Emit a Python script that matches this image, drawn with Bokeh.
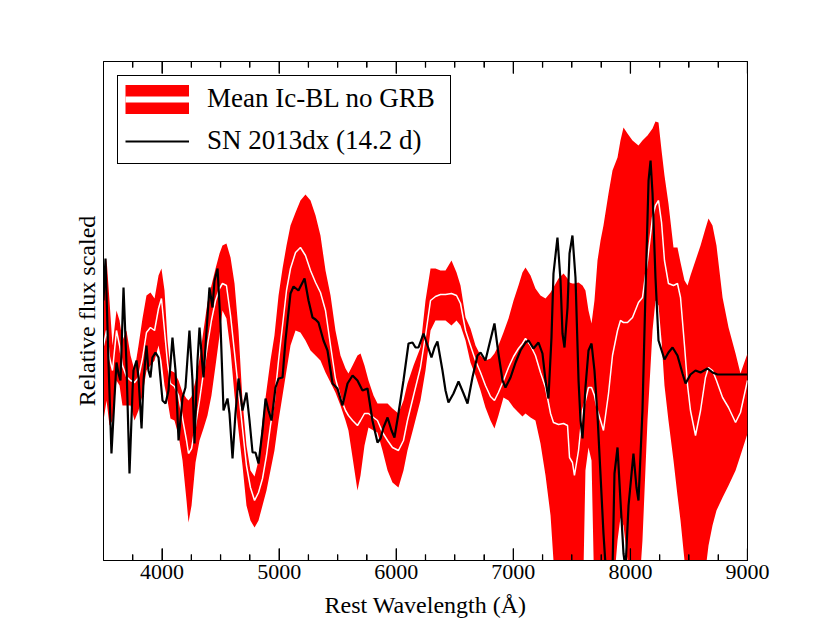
from bokeh.plotting import figure
from bokeh.models import (Range1d, LinearAxis, FixedTicker, Legend, LegendItem,
                          ColumnDataSource)
from bokeh.embed import file_html
from bokeh.resources import INLINE

# ---- data: mean Ic-BL (no GRB) template, +/- 1 sigma band ----
wavelength_band = [
    3500, 3526, 3551, 3577, 3611, 3637, 3662, 3696, 3731, 3765,
    3799, 3833, 3867, 3901, 3936, 3970, 3995, 4021, 4047, 4072,
    4106, 4141, 4175, 4209, 4226, 4252, 4286, 4320, 4354, 4388,
    4422, 4457, 4491, 4516, 4550, 4585, 4619, 4653, 4687, 4721,
    4755, 4790, 4824, 4858, 4892, 4926, 4960, 4995, 5029, 5063,
    5097, 5140, 5182, 5225, 5268, 5311, 5353, 5396, 5439, 5481,
    5524, 5567, 5592, 5627, 5669, 5695, 5729, 5763, 5806, 5840,
    5883, 5926, 5968, 6019, 6062, 6096, 6148, 6207, 6250, 6293,
    6335, 6378, 6421, 6472, 6515, 6549, 6592, 6634, 6677, 6720,
    6762, 6805, 6839, 6873, 6916, 6959, 7002, 7044, 7078, 7104,
    7147, 7189, 7232, 7275, 7318, 7343, 7386, 7429, 7463, 7480,
    7505, 7522, 7557, 7591, 7616, 7642, 7668, 7693, 7719, 7745,
    7770, 7813, 7847, 7890, 7915, 7941, 7975, 8018, 8069, 8103,
    8146, 8189, 8214, 8240, 8266, 8291, 8325, 8368, 8402, 8428,
    8462, 8488, 8513, 8556, 8599, 8641, 8667, 8701, 8735, 8787,
    8838, 8898, 8940, 9000]

band_upper = [
    2.60, 3.02, 2.60, 2.15, 2.50, 2.40, 2.20, 2.30, 2.05, 1.90,
    2.15, 2.42, 2.65, 2.68, 2.62, 2.85, 2.92, 2.70, 2.20, 1.90,
    1.88, 1.80, 1.68, 1.62, 1.60, 1.64, 1.80, 2.02, 2.30, 2.58,
    2.75, 2.92, 3.07, 3.15, 3.17, 3.03, 2.77, 2.30, 1.60, 1.15,
    0.90, 0.84, 1.00, 1.40, 1.70, 2.00, 2.25, 2.65, 2.92, 3.15,
    3.35, 3.48, 3.60, 3.66, 3.60, 3.45, 3.25, 2.90, 2.65, 2.30,
    2.05, 1.92, 1.87, 1.95, 2.05, 2.07, 1.95, 1.80, 1.65, 1.57,
    1.57, 1.57, 1.52, 1.47, 1.60, 1.77, 1.95, 2.13, 2.60, 2.92,
    2.92, 2.90, 2.90, 3.00, 2.88, 2.75, 2.43, 2.32, 2.15, 2.05,
    2.00, 2.02, 2.07, 2.15, 2.28, 2.42, 2.60, 2.75, 2.88, 2.93,
    2.85, 2.72, 2.65, 2.62, 2.68, 2.73, 2.82, 2.87, 2.82, 2.78,
    2.77, 2.77, 2.78, 2.75, 2.70, 2.50, 2.37, 2.60, 3.00, 3.20,
    3.35, 3.67, 3.90, 4.03, 4.20, 4.33, 4.27, 4.20, 4.15, 4.20,
    4.25, 4.32, 4.39, 4.38, 4.10, 3.85, 3.57, 3.13, 3.13, 2.98,
    2.80, 2.75, 2.85, 3.00, 3.15, 3.32, 3.42, 3.35, 3.15, 2.63,
    2.33, 2.07, 1.87, 2.07]

band_mean = [
    2.15, 2.30, 2.03, 1.90, 2.30, 2.15, 1.95, 1.84, 1.80, 1.78,
    1.83, 2.02, 2.28, 2.33, 2.30, 2.52, 2.62, 2.30, 1.97, 1.77,
    1.74, 1.65, 1.42, 1.20, 1.07, 1.12, 1.35, 1.60, 1.88, 2.15,
    2.40, 2.60, 2.72, 2.77, 2.75, 2.45, 2.08, 1.70, 1.32, 0.95,
    0.73, 0.60, 0.68, 0.82, 1.05, 1.35, 1.60, 2.00, 2.35, 2.70,
    2.92, 3.08, 3.13, 3.05, 2.90, 2.78, 2.68, 2.50, 2.15, 1.82,
    1.63, 1.50, 1.45, 1.40, 1.35, 1.40, 1.47, 1.47, 1.43, 1.40,
    1.28, 1.20, 1.13, 1.10, 1.20, 1.40, 1.65, 1.93, 2.25, 2.60,
    2.64, 2.66, 2.66, 2.67, 2.65, 2.57, 2.30, 2.15, 2.00, 1.88,
    1.75, 1.64, 1.60, 1.68, 1.80, 1.93, 2.04, 2.12, 2.17, 2.22,
    2.15, 2.05, 1.88, 1.73, 1.47, 1.38, 1.36, 1.37, 1.35, 1.03,
    0.98, 0.85, 1.10, 1.50, 1.60, 1.73, 1.73, 1.65, 1.50, 1.40,
    1.30, 1.67, 2.05, 2.30, 2.40, 2.38, 2.38, 2.43, 2.58, 2.63,
    3.00, 3.43, 3.55, 3.60, 3.38, 3.00, 2.77, 2.75, 2.77, 2.63,
    2.15, 1.75, 1.50, 1.25, 1.50, 1.83, 1.93, 1.90, 1.80, 1.63,
    1.53, 1.38, 1.48, 1.80]

band_lower = [
    1.40, 1.60, 1.35, 1.40, 1.80, 1.75, 1.55, 1.55, 1.55, 1.40,
    1.50, 1.65, 1.90, 1.95, 2.00, 2.15, 2.00, 1.75, 1.60, 1.42,
    1.40, 1.25, 1.00, 0.60, 0.38, 0.55, 0.98, 1.20, 1.32, 1.45,
    1.65, 1.95, 2.25, 2.50, 2.42, 2.10, 1.65, 1.30, 0.95, 0.55,
    0.40, 0.33, 0.40, 0.55, 0.70, 0.90, 1.10, 1.40, 1.65, 1.90,
    2.15, 2.30, 2.28, 2.20, 2.10, 2.05, 2.00, 1.88, 1.78, 1.68,
    1.55, 1.40, 1.30, 1.03, 0.70, 0.85, 1.15, 1.33, 1.30, 1.28,
    1.10, 0.90, 0.78, 0.73, 0.90, 1.10, 1.33, 1.60, 1.90, 2.30,
    2.40, 2.40, 2.40, 2.35, 2.40, 2.35, 2.20, 1.98, 1.85, 1.70,
    1.53, 1.40, 1.32, 1.45, 1.63, 1.60, 1.53, 1.48, 1.44, 1.47,
    1.43, 1.40, 1.17, 0.85, 0.45, 0.00, -0.60, -0.80, -0.80, -0.80,
    -0.80, -0.80, -0.80, -0.60, 0.90, 1.13, 1.00, -0.40, -0.80, -0.80,
    -0.80, -0.80, -0.40, 0.20, 0.43, 0.35, 0.00, -0.40, -0.40, 0.20,
    1.40, 2.30, 2.60, 2.55, 2.20, 1.75, 1.40, 1.00, 0.65, 0.40,
    0.00, -0.40, -0.80, -0.80, -0.60, -0.10, 0.15, 0.35, 0.50, 0.63,
    0.75, 0.90, 1.05, 1.27]

# ---- data: SN 2013dx at 14.2 d ----
wavelength_sn = [
    3500, 3517, 3543, 3568, 3594, 3611, 3628, 3645, 3671, 3696,
    3722, 3748, 3756, 3782, 3799, 3825, 3842, 3867, 3884, 3901,
    3918, 3944, 3970, 4004, 4030, 4055, 4089, 4115, 4141, 4175,
    4200, 4234, 4260, 4277, 4303, 4320, 4345, 4354, 4380, 4405,
    4431, 4448, 4474, 4499, 4525, 4559, 4576, 4602, 4627, 4653,
    4687, 4721, 4747, 4773, 4798, 4824, 4858, 4884, 4909, 4935,
    4969, 4995, 5029, 5054, 5097, 5123, 5165, 5217, 5251, 5285,
    5311, 5336, 5379, 5413, 5456, 5498, 5541, 5584, 5627, 5669,
    5712, 5755, 5797, 5840, 5866, 5891, 5926, 5960, 5985, 6019,
    6062, 6105, 6139, 6165, 6190, 6233, 6267, 6301, 6327, 6352,
    6395, 6421, 6446, 6489, 6532, 6575, 6609, 6651, 6694, 6720,
    6762, 6797, 6839, 6873, 6908, 6933, 6976, 7019, 7061, 7104,
    7130, 7172, 7215, 7249, 7275, 7300, 7326, 7343, 7377, 7403,
    7420, 7437, 7463, 7480, 7505, 7531, 7557, 7574, 7591, 7616,
    7642, 7668, 7693, 7719, 7745, 7770, 7796, 7821, 7847, 7864,
    7890, 7915, 7941, 7958, 7984, 8026, 8052, 8069, 8103, 8129,
    8155, 8172, 8189, 8214, 8240, 8291, 8325, 8360, 8402, 8445,
    8471, 8513, 8556, 8599, 8658, 8701, 8744, 9000]

flux_sn = [
    2.60, 3.02, 1.97, 1.07, 1.63, 1.98, 1.87, 1.80, 2.73, 1.97,
    0.87, 1.70, 1.90, 2.00, 1.83, 1.32, 1.80, 2.15, 1.90, 1.83,
    2.03, 2.08, 2.03, 1.60, 1.57, 1.70, 2.23, 1.90, 1.20, 1.63,
    1.73, 2.30, 1.80, 1.17, 2.00, 2.33, 1.95, 1.83, 2.30, 2.73,
    2.53, 2.80, 2.92, 2.37, 1.50, 1.62, 1.47, 1.02, 1.47, 1.82,
    1.50, 1.68, 1.40, 1.08, 1.08, 0.97, 1.30, 1.62, 1.50, 1.40,
    1.73, 1.82, 1.83, 2.20, 2.67, 2.74, 2.70, 2.82, 2.60, 2.43,
    2.41, 2.38, 2.20, 2.10, 1.77, 1.72, 1.55, 1.77, 1.85, 1.80,
    1.70, 1.72, 1.40, 1.18, 1.22, 1.33, 1.43, 1.30, 1.23, 1.47,
    1.80, 2.17, 2.18, 2.13, 2.13, 2.27, 2.15, 2.03, 2.13, 2.19,
    1.90, 1.70, 1.58, 1.67, 1.79, 1.67, 1.57, 1.83, 2.05, 2.08,
    2.00, 2.17, 2.37, 2.07, 1.80, 1.73, 1.83, 1.98, 2.10, 2.18,
    2.20, 2.12, 2.18, 2.07, 1.80, 1.62, 2.23, 2.87, 3.23, 2.80,
    2.27, 2.13, 2.53, 3.07, 3.25, 2.83, 1.80, 1.40, 1.22, 1.73,
    2.10, 2.17, 1.90, 1.45, 0.85, 0.27, -0.20, -0.50, -0.10, 0.87,
    1.13, 0.60, 0.07, -0.08, 0.55, 1.07, 0.73, 0.60, 1.50, 2.70,
    3.80, 4.00, 3.67, 2.83, 2.20, 2.01, 2.08, 2.13, 2.05, 1.87,
    1.77, 1.86, 1.90, 1.88, 1.92, 1.88, 1.86, 1.86]

major_ticks = [4000, 5000, 6000, 7000, 8000, 9000]
minor_ticks = [3750, 4250, 4500, 4750, 5250, 5500, 5750, 6250, 6500, 6750,
               7250, 7500, 7750, 8250, 8500, 8750]

assert len(wavelength_band) == len(band_upper) == len(band_mean) == len(band_lower)
assert len(wavelength_sn) == len(flux_sn)

FONT = "Liberation Serif"
Y0, Y1 = 0.0, 4.99
MAJOR_LEN, MINOR_LEN = 0.12, 0.06   # inward tick length in y units (~12 px / ~6 px)
NAN = float("nan")

p = figure(width=828, height=621, x_range=Range1d(3500, 9000), y_range=Range1d(Y0, Y1),
           output_backend="svg", toolbar_location=None, title=None,
           x_axis_location=None, y_axis_location=None,
           min_border_left=103, min_border_right=81, min_border_top=61, min_border_bottom=61)
p.grid.visible = False
p.outline_line_color = "black"
p.outline_line_width = 1
p.outline_line_alpha = 1
p.background_fill_color = "white"
p.border_fill_color = "white"

band_src = ColumnDataSource(dict(x=wavelength_band, lo=band_lower, hi=band_upper, m=band_mean))
sn_src = ColumnDataSource(dict(x=wavelength_sn, y=flux_sn))

# inward ticks on bottom and top edges, built from the tick lists (explicit source)
tk_x, tk_y0, tk_y1 = [], [], []
for ticks, length in ((major_ticks, MAJOR_LEN), (minor_ticks, MINOR_LEN)):
    for t in ticks:
        tk_x += [float(t), float(t)]
        tk_y0 += [Y0 - 0.3, Y1 + 0.3]
        tk_y1 += [Y0 + length, Y1 - length]
tick_src = ColumnDataSource(dict(x=tk_x, y0=tk_y0, y1=tk_y1))

p.varea(x="x", y1="lo", y2="hi", source=band_src, fill_color="#ff0000", fill_alpha=1)
p.line(x="x", y="m", source=band_src, line_color="white", line_width=1.5)
sn = p.line(x="x", y="y", source=sn_src, line_color="black", line_width=2.2)
p.segment(x0="x", y0="y0", x1="x", y1="y1", source=tick_src,
          line_color="black", line_width=1.3)

# legend-only proxies (no visible data)
leg_red = p.line(x=[NAN], y=[NAN], line_color="#ff0000", line_width=29)
leg_white = p.line(x=[NAN], y=[NAN], line_color="white", line_width=6)


def make_xaxis(labels):
    ax = LinearAxis(ticker=FixedTicker(ticks=major_ticks, minor_ticks=minor_ticks))
    ax.major_tick_in = 12
    ax.major_tick_out = 0
    ax.minor_tick_in = 6
    ax.minor_tick_out = 0
    ax.major_tick_line_color = "black"
    ax.minor_tick_line_color = "black"
    ax.axis_line_color = "black"
    if labels:
        ax.major_label_text_font = FONT
        ax.major_label_text_font_size = "22px"
        ax.major_label_text_color = "black"
        ax.major_label_standoff = 4
        ax.axis_label = "Rest Wavelength (Å)"
        ax.axis_label_text_font = FONT
        ax.axis_label_text_font_size = "24px"
        ax.axis_label_text_font_style = "normal"
        ax.axis_label_text_color = "black"
        ax.axis_label_standoff = 10
    else:
        ax.major_label_text_color = None
        ax.major_label_standoff = 0
    return ax


p.add_layout(make_xaxis(True), "below")
p.add_layout(make_xaxis(False), "above")

yax = LinearAxis(ticker=FixedTicker(ticks=[]))
yax.major_tick_in = 0
yax.major_tick_out = 0
yax.minor_tick_in = 0
yax.minor_tick_out = 0
yax.major_label_standoff = 0
yax.axis_line_color = "black"
yax.axis_label = "Relative flux scaled"
yax.axis_label_text_font = FONT
yax.axis_label_text_font_size = "24px"
yax.axis_label_text_font_style = "normal"
yax.axis_label_text_color = "black"
yax.axis_label_standoff = 4
p.add_layout(yax, "left")

legend = Legend(items=[
    LegendItem(label="Mean Ic-BL no GRB", renderers=[leg_red, leg_white]),
    LegendItem(label="SN 2013dx (14.2 d)", renderers=[sn]),
], location="top_left")
legend.margin = 14
legend.padding = 7
legend.spacing = 11
legend.glyph_width = 64
legend.glyph_height = 30
legend.label_standoff = 18
legend.label_width = 236
legend.label_text_font = FONT
legend.label_text_font_size = "27px"
legend.label_text_color = "black"
legend.border_line_color = "black"
legend.border_line_width = 1
legend.border_line_alpha = 1
legend.background_fill_color = "white"
legend.background_fill_alpha = 1
p.add_layout(legend)

open("out.html", "w").write(file_html(p, INLINE))
